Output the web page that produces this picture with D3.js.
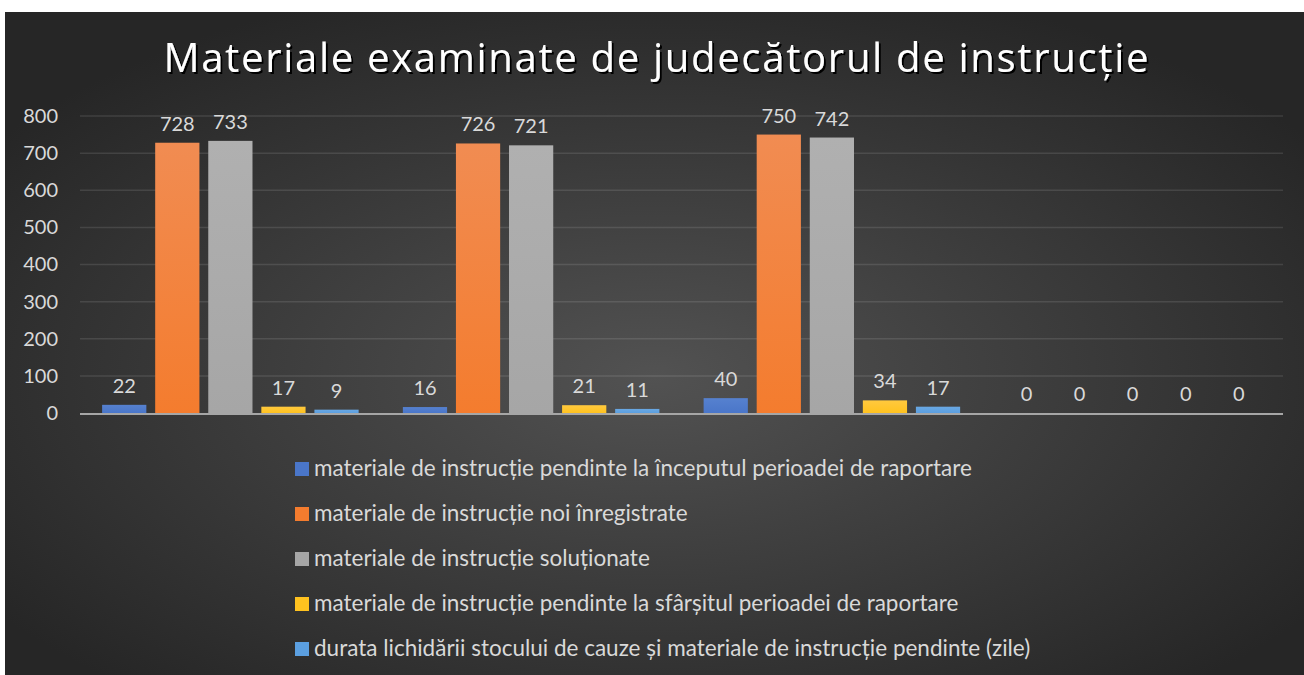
<!DOCTYPE html>
<html lang="ro">
	<head>
		<meta charset="utf-8">
		<title>Materiale examinate</title>
		<script type="text/javascript" src="https://d3js.org/d3.v7.min.js"></script>
		<style>
			body { margin: 0; background: #fff; }
			svg text { font-family: Lato, "Open Sans", sans-serif; }
		</style>
	</head>
	<body>
		<script type="text/javascript">

			// Data
			var categories = ["1", "2", "3", "4"];
			var seriesNames = [
				"materiale de instrucție pendinte la începutul perioadei de raportare",
				"materiale de instrucție noi înregistrate",
				"materiale de instrucție soluționate",
				"materiale de instrucție pendinte la sfârșitul perioadei de raportare",
				"durata lichidării stocului de cauze și materiale de instrucție pendinte (zile)"
			];
			var pendingStart = [22, 16, 40, 0];
			var newRegistered = [728, 726, 750, 0];
			var solved = [733, 721, 742, 0];
			var pendingEnd = [17, 21, 34, 0];
			var duration = [9, 11, 17, 0];
			var yTicks = [0, 100, 200, 300, 400, 500, 600, 700, 800];

			var seriesValues = [pendingStart, newRegistered, solved, pendingEnd, duration];
			var colors = ["#4a76c9", "#f47c2e", "#a6a6a6", "#ffc21f", "#5b9fe0"];
			var colorsTop = ["#5681cf", "#f18c52", "#b0b0b0", "#ffc93f", "#6aa8e3"];

			var w = 1304;
			var h = 675;
			var margin = {left: 80, right: 21, top: 116, bottom: 262};

			var svg = d3.select("body")
						.append("svg")
						.attr("width", w)
						.attr("height", h);

			var defs = svg.append("defs");
			var bg = defs.append("radialGradient")
						.attr("id", "bg")
						.attr("cx", "50%").attr("cy", "55%").attr("r", "62%");
			bg.append("stop").attr("offset", "0%").attr("stop-color", "#525252");
			bg.append("stop").attr("offset", "100%").attr("stop-color", "#262626");

			seriesNames.forEach(function(s, i) {
				var g = defs.append("linearGradient")
							.attr("id", "bar" + i)
							.attr("x1", 0).attr("y1", 0).attr("x2", 0).attr("y2", 1);
				g.append("stop").attr("offset", "0%").attr("stop-color", colorsTop[i]);
				g.append("stop").attr("offset", "100%").attr("stop-color", colors[i]);
			});

			var shadow = defs.append("filter").attr("id", "shadow")
							.attr("x", "-5%").attr("y", "-20%").attr("width", "110%").attr("height", "150%");
			shadow.append("feDropShadow")
					.attr("dx", 2).attr("dy", 2).attr("stdDeviation", 0.6)
					.attr("flood-color", "#000").attr("flood-opacity", 1);

			// Background
			svg.append("rect")
				.attr("x", 5).attr("y", 12)
				.attr("width", w - 5).attr("height", h - 12)
				.attr("fill", "url(#bg)");

			// Scales
			var x0 = d3.scaleBand()
						.domain(categories)
						.range([margin.left, w - margin.right]);

			var x1 = d3.scaleBand()
						.domain(d3.range(seriesNames.length))
						.range([0, x0.bandwidth()])
						.paddingInner(0.1667)
						.paddingOuter(0.4167);

			var yScale = d3.scaleLinear()
						.domain([0, 800])
						.range([h - margin.bottom, margin.top]);

			// Gridlines
			svg.append("g")
				.selectAll("line")
				.data(yTicks.slice(1))
				.enter()
				.append("line")
				.attr("x1", margin.left)
				.attr("x2", w - margin.right)
				.attr("y1", function(d) { return yScale(d); })
				.attr("y2", function(d) { return yScale(d); })
				.attr("stroke", "#ffffff")
				.attr("stroke-opacity", 0.11)
				.attr("stroke-width", 1.5);

			// Y axis labels
			var yAxis = d3.axisLeft(yScale)
						.tickValues(yTicks)
						.tickSize(0)
						.tickPadding(22);

			var yg = svg.append("g")
						.attr("transform", "translate(" + margin.left + ",0)")
						.call(yAxis);
			yg.select(".domain").remove();
			yg.selectAll("text")
				.attr("fill", "#d9d9d9")
				.style("font-size", "20px")
				.style("font-family", "Lato, sans-serif");

			// Bars
			var groups = svg.append("g")
							.selectAll("g")
							.data(categories)
							.enter()
							.append("g")
							.attr("transform", function(d) { return "translate(" + x0(d) + ",0)"; });

			groups.selectAll("rect")
				.data(function(d, ci) { return seriesValues.map(function(v, si) { return {s: si, v: v[ci]}; }); })
				.enter()
				.append("rect")
				.attr("x", function(d) { return x1(d.s); })
				.attr("width", x1.bandwidth())
				.attr("y", function(d) { return yScale(d.v); })
				.attr("height", function(d) { return yScale(0) - yScale(d.v); })
				.attr("fill", function(d) { return "url(#bar" + d.s + ")"; });

			groups.selectAll("text")
				.data(function(d, ci) { return seriesValues.map(function(v, si) { return {s: si, v: v[ci]}; }); })
				.enter()
				.append("text")
				.attr("x", function(d) { return x1(d.s) + x1.bandwidth() / 2; })
				.attr("y", function(d) { return yScale(d.v) - 12; })
				.attr("text-anchor", "middle")
				.attr("fill", "#d9d9d9")
				.style("font-size", "20px")
				.text(function(d) { return d.v; });

			// Baseline
			svg.append("line")
				.attr("x1", margin.left)
				.attr("x2", w - margin.right)
				.attr("y1", yScale(0) + 1)
				.attr("y2", yScale(0) + 1)
				.attr("stroke", "#a6a6a6")
				.attr("stroke-width", 2);

			// Title
			svg.append("text")
				.attr("x", 656)
				.attr("y", 72)
				.attr("text-anchor", "middle")
				.attr("fill", "#ffffff")
				.attr("filter", "url(#shadow)")
				.attr("textLength", 985)
				.attr("lengthAdjust", "spacing")
				.style("font-size", "40px")
				.style("font-family", "'Open Sans', sans-serif")
				.text("Materiale examinate de judecătorul de instrucție");

			// Legend
			var legend = svg.append("g")
							.selectAll("g")
							.data(seriesNames)
							.enter()
							.append("g")
							.attr("transform", function(d, i) { return "translate(295," + (461 + i * 45) + ")"; });

			legend.append("rect")
				.attr("y", 1)
				.attr("width", 14)
				.attr("height", 14)
				.attr("fill", function(d, i) { return colors[i]; });

			legend.append("text")
				.attr("x", 19)
				.attr("y", 15)
				.attr("fill", "#d9d9d9")
				.style("font-size", "22.5px")
				.text(function(d) { return d; });

		</script>
	</body>
</html>
